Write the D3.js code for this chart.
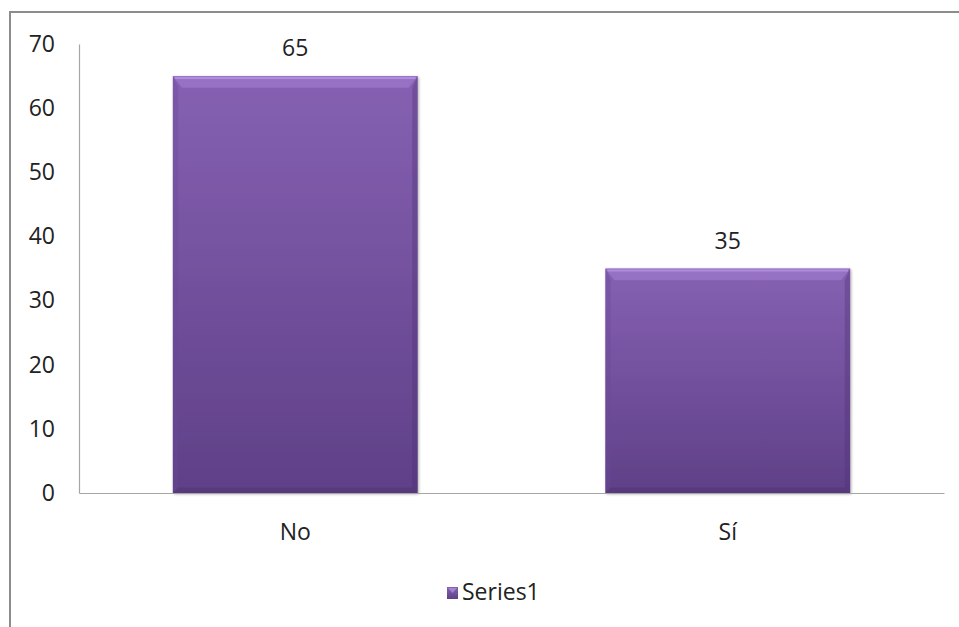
<!DOCTYPE html>
<html><head><meta charset="utf-8">
<script src="https://cdn.jsdelivr.net/npm/d3@7"></script>
<style>body{margin:0;background:#fff;}svg{display:block;} svg text{font-family:"Open Sans","Noto Sans",sans-serif;}</style>
</head><body>
<svg id="c" width="959" height="627"></svg>
<script>
const categories = ["No", "Sí"];
const values = [65, 35];
const yTicks = [0, 10, 20, 30, 40, 50, 60, 70];
const seriesName = "Series1";

(function() {
const FS = 23;
const svg = d3.select("#c");
svg.append("rect").attr("x", 10).attr("y", 12).attr("width", 980).attr("height", 640)
  .attr("fill", "none").attr("stroke", "#8c8c8c").attr("stroke-width", 2);

const pL = 79, pR = 944, pT = 44, pB = 493;
const x = d3.scaleBand().domain(categories).range([pL, pR]).paddingInner(0.434).paddingOuter(0.217);
const y = d3.scaleLinear().domain([0, 70]).range([pB, pT]);

const defs = svg.append("defs");
const g = defs.append("linearGradient").attr("id", "bg").attr("x1", 0).attr("y1", 0).attr("x2", 0).attr("y2", 1);
g.append("stop").attr("offset", "0%").attr("stop-color", "#8661b3");
g.append("stop").attr("offset", "100%").attr("stop-color", "#5f4087");
const sh = defs.append("filter").attr("id", "sh").attr("x", "-5%").attr("y", "-5%").attr("width", "110%").attr("height", "110%");
sh.append("feGaussianBlur").attr("in", "SourceAlpha").attr("stdDeviation", 1.5);
sh.append("feOffset").attr("dx", 1).attr("dy", 1).attr("result", "o");
sh.append("feComponentTransfer").append("feFuncA").attr("type", "linear").attr("slope", 0.35);
const m = sh.append("feMerge"); m.append("feMergeNode"); m.append("feMergeNode").attr("in", "SourceGraphic");

const yAxis = svg.append("g").attr("transform", `translate(${pL},0)`)
  .call(d3.axisLeft(y).tickValues(yTicks).tickSize(0).tickPadding(24).tickFormat(d3.format("d")));
yAxis.select(".domain").attr("stroke", "#a6a6a6").attr("stroke-width", 1.2);
yAxis.selectAll("text").attr("font-size", FS).attr("fill", "#222");

const bars = svg.append("g").selectAll("g").data(categories).join("g");
const bev = 9;
bars.each(function(c, i) {
  const gg = d3.select(this);
  const x0 = x(c), w = x.bandwidth(), y0 = y(values[i]), h = y(0) - y(values[i]);
  gg.append("rect").attr("x", x0).attr("y", y0).attr("width", w).attr("height", h)
    .attr("fill", "url(#bg)").attr("filter", "url(#sh)");
  gg.append("polygon").attr("points", `${x0},${y0} ${x0+w},${y0} ${x0+w-bev},${y0+bev*1.3} ${x0+bev},${y0+bev*1.3}`)
    .attr("fill", "#a783d6").attr("opacity", 0.5);
  gg.append("rect").attr("x", x0 + 2).attr("y", y0 + 1).attr("width", w - 4).attr("height", 2).attr("fill", "#c2a2ee").attr("opacity", 0.6);
  gg.append("polygon").attr("points", `${x0},${y0} ${x0+bev*0.6},${y0+bev*1.3} ${x0+bev*0.6},${y0+h-bev*0.6} ${x0},${y0+h}`)
    .attr("fill", "#6a4799").attr("opacity", 0.35);
  gg.append("polygon").attr("points", `${x0+w},${y0} ${x0+w-bev*0.6},${y0+bev*1.3} ${x0+w-bev*0.6},${y0+h-bev*0.6} ${x0+w},${y0+h}`)
    .attr("fill", "#4e3172").attr("opacity", 0.35);
  gg.append("polygon").attr("points", `${x0},${y0+h} ${x0+bev*0.6},${y0+h-bev*0.6} ${x0+w-bev*0.6},${y0+h-bev*0.6} ${x0+w},${y0+h}`)
    .attr("fill", "#4a2f6e").attr("opacity", 0.35);
  gg.append("text").attr("x", x0 + w / 2).attr("y", y0 - 20).attr("text-anchor", "middle")
    .attr("font-size", FS).attr("fill", "#222").text(values[i]);
});

const xAxis = svg.append("g").attr("transform", `translate(0,${pB})`)
  .call(d3.axisBottom(x).tickSize(0).tickPadding(31));
xAxis.select(".domain").attr("stroke", "#a6a6a6").attr("stroke-width", 1.2);
xAxis.selectAll("text").attr("font-size", FS).attr("fill", "#222");

const lg = svg.append("g").attr("transform", "translate(447,587)");
lg.append("rect").attr("width", 11).attr("height", 12).attr("fill", "url(#bg)");
lg.append("polygon").attr("points", "1,1 10,1 5.5,6").attr("fill", "#b596e0").attr("opacity", 0.7);
lg.append("text").attr("x", 15).attr("y", 13).attr("font-size", FS).attr("fill", "#222").text(seriesName);
})();
</script>
</body></html>
